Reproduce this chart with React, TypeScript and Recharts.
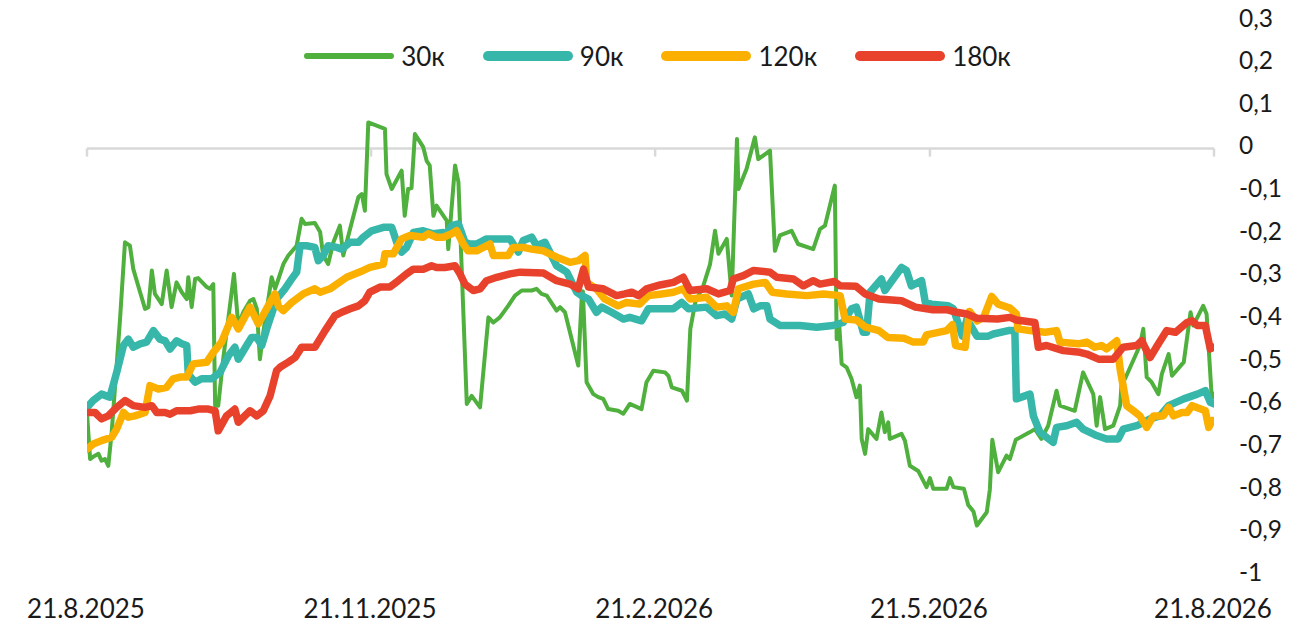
import { Legend, Line, LineChart, ReferenceLine, XAxis, YAxis } from "recharts";

// days since 21.8.2025, value
const series30: [number, number][] = [
  [0, -0.62], [1, -0.728], [2, -0.723], [3.7, -0.716], [4.7, -0.732], [5.8, -0.728], [6.9, -0.744],
  [8, -0.665], [10.7, -0.4], [12.3, -0.22], [13.9, -0.228], [15, -0.283], [17.2, -0.337], [18.8, -0.376],
  [19.9, -0.372], [21, -0.286], [22, -0.341], [24.2, -0.365], [25.8, -0.286], [27.4, -0.372], [29, -0.314],
  [30.7, -0.337], [32.3, -0.353], [32.8, -0.302], [33.9, -0.372], [35, -0.306], [36, -0.304], [38.8, -0.325],
  [39.8, -0.329], [40.9, -0.318], [41.5, -0.603], [42.5, -0.603], [44.1, -0.494], [47.6, -0.294], [49, -0.415],
  [50.6, -0.384], [52.8, -0.357], [53.9, -0.353], [55, -0.376], [56, -0.494], [57.1, -0.431], [59.8, -0.302],
  [60.9, -0.329], [62, -0.306], [63.6, -0.271], [65.2, -0.251], [67.9, -0.228], [69.5, -0.165], [70.6, -0.177],
  [73.8, -0.175], [75.5, -0.196], [76.5, -0.251], [78.1, -0.271], [79.8, -0.22], [81.9, -0.181], [83, -0.251],
  [85.2, -0.189], [87.9, -0.114], [89, -0.107], [90, -0.146], [91.1, 0.061], [96.5, 0.046], [97, -0.06],
  [98.7, -0.095], [101.9, -0.052], [102.9, -0.158], [104, -0.095], [105.1, -0.093], [106.2, 0.034],
  [108.9, 0.003], [110, -0.029], [111, -0.04], [112.2, -0.158], [113.2, -0.134], [116.5, -0.169], [117, -0.236],
  [119.2, -0.04], [120.3, -0.079], [123, -0.599], [124.6, -0.58], [127.3, -0.607], [130, -0.396], [131.6, -0.408],
  [133.7, -0.396], [136.4, -0.369], [138.6, -0.345], [140.8, -0.333], [144, -0.333], [145.6, -0.329],
  [147.2, -0.341], [148.9, -0.345], [152.1, -0.38], [153.2, -0.372], [154.8, -0.384], [159.1, -0.509],
  [160.2, -0.353], [160.6, -0.335], [161.8, -0.548], [164, -0.576], [165.6, -0.583], [167.2, -0.587],
  [168.8, -0.611], [172, -0.615], [173.7, -0.622], [175.8, -0.599], [179.6, -0.611], [181.2, -0.548],
  [183.4, -0.521], [187.2, -0.525], [188.3, -0.533], [189.4, -0.56], [192.7, -0.568], [194.3, -0.591],
  [195.4, -0.423], [197, -0.361], [199.6, -0.322], [201.8, -0.271], [203.4, -0.193], [204.5, -0.247],
  [207.2, -0.212], [208.8, -0.345], [210.5, 0.022], [211, -0.095], [213.6, -0.048], [216.3, 0.026],
  [217.4, -0.025], [221.2, -0.005], [222.8, -0.24], [224.4, -0.204], [228.2, -0.193], [230.3, -0.224],
  [235.2, -0.236], [237.4, -0.189], [239, -0.181], [242.2, -0.087], [242.8, -0.447], [243.6, -0.41],
  [244.4, -0.505], [246, -0.513], [247.6, -0.54], [249.2, -0.583], [250.3, -0.556], [250.9, -0.681],
  [252, -0.716], [253, -0.658], [255.7, -0.681], [257.3, -0.619], [258.4, -0.665], [259.5, -0.642],
  [260, -0.681], [263.8, -0.669], [264.9, -0.685], [266.5, -0.744], [269.2, -0.756], [271.9, -0.794],
  [273, -0.773], [274.1, -0.798], [278.4, -0.798], [279.5, -0.773], [280.6, -0.794], [284, -0.798],
  [285.4, -0.836], [287.1, -0.851], [288.2, -0.884], [291.4, -0.853], [292.4, -0.8], [293.2, -0.683],
  [295.1, -0.759], [297.8, -0.72], [298.9, -0.728], [300.8, -0.683], [305.4, -0.665], [307, -0.658],
  [309.1, -0.681], [311.3, -0.65], [314, -0.568], [315.1, -0.603], [319.9, -0.615], [322.6, -0.525],
  [325.9, -0.576], [327, -0.65], [328.1, -0.583], [329.7, -0.658], [332.4, -0.65], [334.6, -0.603],
  [335.1, -0.548], [336.2, -0.54], [341, -0.462], [342.1, -0.423], [343.2, -0.536], [344.8, -0.548],
  [347, -0.576], [348.1, -0.529], [350.3, -0.482], [351.4, -0.533], [355.2, -0.501], [357.4, -0.384],
  [358.3, -0.415], [361.5, -0.369], [362.6, -0.388], [364.3, -0.587], [365, -0.575],
];

const series90: [number, number][] = [
  [0, -0.607], [2, -0.591], [4.7, -0.576], [7.4, -0.583], [9.6, -0.525], [11.8, -0.462], [13.4, -0.447],
  [15, -0.466], [17.2, -0.458], [19.3, -0.454], [21.5, -0.427], [23.6, -0.447], [25.3, -0.451], [26.9, -0.47],
  [29, -0.451], [30.7, -0.458], [32.3, -0.462], [32.8, -0.529], [35, -0.548], [37.1, -0.54], [40.4, -0.54],
  [43.1, -0.525], [45.8, -0.486], [47.9, -0.466], [49, -0.494], [51.7, -0.462], [53.3, -0.443], [55, -0.443],
  [56.6, -0.462], [58.2, -0.423], [61.4, -0.353], [64.1, -0.329], [66.3, -0.306], [67.9, -0.29], [69, -0.228],
  [71.1, -0.228], [73.8, -0.232], [74.9, -0.263], [76.5, -0.251], [78.1, -0.228], [80.9, -0.232],
  [82.5, -0.236], [85.2, -0.22], [87.9, -0.22], [89.5, -0.208], [92.2, -0.193], [96, -0.185], [98.7, -0.185],
  [100.3, -0.22], [101.9, -0.243], [103.5, -0.232], [105.7, -0.197], [108.9, -0.193], [112.2, -0.2],
  [115.4, -0.197], [116.5, -0.203], [118.1, -0.181], [120.3, -0.177], [122.4, -0.22], [124, -0.224],
  [126.2, -0.224], [129.4, -0.212], [132.7, -0.212], [137, -0.212], [139.7, -0.243], [141.3, -0.216],
  [144, -0.208], [145.6, -0.228], [148.3, -0.22], [152.1, -0.275], [155.4, -0.29], [158.6, -0.337],
  [160.2, -0.345], [162.4, -0.353], [165, -0.384], [166.7, -0.372], [169.9, -0.384], [173.7, -0.4],
  [175.8, -0.396], [179.6, -0.404], [181.8, -0.376], [185.6, -0.376], [189.9, -0.376], [192.6, -0.361],
  [194.8, -0.376], [200.7, -0.372], [203.9, -0.392], [206.6, -0.388], [208.8, -0.4], [210.5, -0.353],
  [214.2, -0.341], [215.9, -0.376], [218, -0.369], [220.2, -0.369], [221.2, -0.4], [224.4, -0.415],
  [230.9, -0.415], [236.3, -0.419], [241.6, -0.415], [244.9, -0.408], [247.6, -0.376], [249.2, -0.372],
  [251.4, -0.431], [252.5, -0.431], [253.6, -0.337], [257.3, -0.306], [258.4, -0.333], [263.8, -0.279],
  [265.4, -0.286], [267, -0.322], [270.3, -0.31], [271.5, -0.361], [273.5, -0.365], [278.9, -0.369],
  [280.6, -0.376], [283.5, -0.44], [285, -0.4], [288.2, -0.44], [291.9, -0.44], [293.5, -0.435],
  [298.4, -0.427], [300.5, -0.427], [301, -0.587], [305.4, -0.576], [306.5, -0.627], [308.6, -0.665],
  [312.9, -0.689], [314, -0.654], [317.3, -0.65], [320.5, -0.642], [322.6, -0.658], [327, -0.673],
  [330.2, -0.681], [334, -0.681], [335.6, -0.658], [340, -0.65], [344.3, -0.634], [347.5, -0.627],
  [350.3, -0.603], [355.2, -0.587], [359.6, -0.576], [362.2, -0.568], [363.8, -0.595], [365, -0.599],
];

const series120: [number, number][] = [
  [0, -0.705], [2, -0.693], [4.7, -0.685], [8, -0.677], [9.6, -0.658], [11.8, -0.619], [13.4, -0.63],
  [15.5, -0.627], [18.8, -0.619], [20.4, -0.556], [23.1, -0.564], [25.8, -0.56], [27.9, -0.54], [30.1, -0.536],
  [32.3, -0.536], [34.4, -0.505], [38.8, -0.501], [40.9, -0.478], [43.6, -0.454], [46.9, -0.396], [49, -0.423],
  [52.8, -0.372], [55.5, -0.411], [58.7, -0.369], [60.9, -0.341], [62, -0.37], [63.6, -0.38], [66.3, -0.361],
  [70, -0.341], [73.8, -0.329], [75.5, -0.337], [78.7, -0.329], [84.1, -0.302], [89.5, -0.286], [91.6, -0.279],
  [96, -0.271], [96.5, -0.247], [99.2, -0.247], [101.9, -0.212], [104.6, -0.204], [108.9, -0.208],
  [110.5, -0.2], [113.2, -0.208], [115.4, -0.208], [118.1, -0.2], [119.7, -0.193], [121.9, -0.224],
  [123.4, -0.24], [126.2, -0.24], [130.5, -0.224], [131.6, -0.251], [136.4, -0.251], [138, -0.232],
  [141.3, -0.232], [144, -0.236], [147.8, -0.24], [152.1, -0.255], [156.4, -0.267], [159.1, -0.263],
  [161.3, -0.251], [161.8, -0.314], [165, -0.329], [167.7, -0.353], [172, -0.369], [174.7, -0.361],
  [179, -0.365], [181.8, -0.345], [186.1, -0.341], [189.9, -0.337], [193.1, -0.329], [195.3, -0.353],
  [200.7, -0.349], [203.9, -0.372], [207.2, -0.369], [209.3, -0.384], [211, -0.329], [215.9, -0.318],
  [219.7, -0.314], [221.9, -0.337], [226.6, -0.341], [233.1, -0.345], [238.5, -0.341], [243.9, -0.345],
  [245.5, -0.4], [249.2, -0.402], [252.2, -0.419], [256.5, -0.427], [259.3, -0.443], [264.6, -0.445],
  [267.6, -0.454], [270.8, -0.454], [271.9, -0.437], [278.4, -0.427], [280.3, -0.413], [281.3, -0.462],
  [284.4, -0.466], [285.8, -0.382], [288.2, -0.404], [290.4, -0.396], [293, -0.347], [295.1, -0.365],
  [298.9, -0.374], [301, -0.388], [301.5, -0.423], [305.4, -0.427], [310.3, -0.431], [314, -0.427],
  [315.1, -0.454], [321, -0.458], [323.8, -0.454], [326.4, -0.466], [328.6, -0.462], [330.2, -0.47],
  [333.5, -0.451], [334.6, -0.517], [336.7, -0.603], [338.9, -0.615], [341, -0.627], [343.2, -0.654],
  [345.4, -0.627], [348.6, -0.627], [350.3, -0.607], [351.9, -0.627], [354.6, -0.619], [356.3, -0.619],
  [357.9, -0.603], [362.2, -0.615], [363.3, -0.654], [364.4, -0.638], [365, -0.638],
];

const series180: [number, number][] = [
  [0, -0.619], [2.6, -0.619], [4.7, -0.634], [6.9, -0.627], [9.6, -0.607], [12.3, -0.591], [15, -0.603],
  [18.8, -0.607], [21, -0.603], [22.6, -0.619], [25.3, -0.619], [26.9, -0.623], [29, -0.615], [33.4, -0.615],
  [36, -0.611], [39.3, -0.611], [41.5, -0.615], [42.5, -0.662], [45.2, -0.627], [47.9, -0.611], [49, -0.642],
  [52.8, -0.615], [55, -0.627], [57.1, -0.615], [59.3, -0.58], [61.4, -0.521], [62.5, -0.513], [65.2, -0.501],
  [67.4, -0.49], [69.5, -0.466], [73.8, -0.466], [77.1, -0.427], [80.3, -0.392], [82.5, -0.384],
  [85.2, -0.376], [87.9, -0.369], [90, -0.357], [91.6, -0.337], [94.9, -0.325], [98.1, -0.325],
  [100.8, -0.31], [103.5, -0.294], [105.7, -0.283], [108.9, -0.283], [111.6, -0.275], [113.2, -0.279],
  [115.9, -0.279], [119.2, -0.275], [120.8, -0.294], [122.4, -0.318], [125.1, -0.333], [127.3, -0.329],
  [129.4, -0.31], [132.7, -0.302], [137, -0.294], [140.3, -0.29], [147.8, -0.292], [152.1, -0.31],
  [156.4, -0.318], [159.1, -0.329], [160.8, -0.283], [162.4, -0.325], [167.2, -0.329], [171.5, -0.345],
  [174.2, -0.341], [176.4, -0.337], [178.6, -0.345], [181.2, -0.329], [185.6, -0.32], [189.9, -0.314],
  [193.1, -0.302], [195.3, -0.333], [200.7, -0.329], [204.5, -0.341], [208.3, -0.333], [209.3, -0.306],
  [212.6, -0.298], [215.9, -0.286], [221.2, -0.29], [223.4, -0.302], [228.8, -0.306], [232, -0.322],
  [235.2, -0.31], [237.4, -0.318], [242, -0.312], [243.9, -0.322], [249, -0.323], [252, -0.341],
  [256.5, -0.353], [263.8, -0.357], [268.3, -0.372], [274, -0.378], [278.4, -0.378], [281.6, -0.384],
  [285, -0.388], [288.2, -0.398], [294.9, -0.4], [298.9, -0.396], [301, -0.402], [307, -0.408],
  [308.1, -0.466], [310.8, -0.462], [316.2, -0.474], [321.6, -0.478], [323.8, -0.482], [327.6, -0.494],
  [332.4, -0.494], [335.6, -0.466], [340, -0.462], [341.6, -0.451], [344.3, -0.49], [347, -0.458],
  [349.7, -0.427], [352.5, -0.431], [356.3, -0.408], [357.9, -0.404], [359.6, -0.415], [362.2, -0.415],
  [363.8, -0.47], [365, -0.466],
];

const xTicks = [0, 92, 184, 273, 365];
const xLabels = ["21.8.2025", "21.11.2025", "21.2.2026", "21.5.2026", "21.8.2026"];
const yTicks = [0.3, 0.2, 0.1, 0, -0.1, -0.2, -0.3, -0.4, -0.5, -0.6, -0.7, -0.8, -0.9, -1];
const yLabels = ["0,3", "0,2", "0,1", "0", "-0,1", "-0,2", "-0,3", "-0,4", "-0,5", "-0,6", "-0,7", "-0,8", "-0,9", "-1"];

const FONT = "Lato, 'Open Sans', sans-serif";
const TEXT = "#1a1a1a";

const lines = [
  { key: "30к", data: series30, color: "#4fb03d", width: 4 },
  { key: "90к", data: series90, color: "#36b7aa", width: 7.5 },
  { key: "120к", data: series120, color: "#fbb000", width: 7.5 },
  { key: "180к", data: series180, color: "#e8412c", width: 7.5 },
];

const toPoints = (s: [number, number][]) => s.map(([d, v]) => ({ d, v }));

function XTick({ x, y, payload }: any) {
  const i = xTicks.indexOf(payload.value);
  return (
    <text x={x - 1} y={y + 35} textAnchor="middle" fontSize={26} fontFamily={FONT} fill={TEXT}>
      {xLabels[i]}
    </text>
  );
}

function YTick({ x, y, payload }: any) {
  const i = yTicks.findIndex((t) => Math.abs(t - payload.value) < 1e-6);
  return (
    <text x={x} y={y + 6} textAnchor="start" fontSize={24.5} fontFamily={FONT} fill={TEXT}>
      {yLabels[i]}
    </text>
  );
}

function LegendBox() {
  return (
    <div style={{ display: "flex", justifyContent: "center", alignItems: "center", gap: 38, fontFamily: FONT, paddingLeft: 14 }}>
      {lines.map((l) => (
        <div key={l.key} style={{ display: "flex", alignItems: "center", gap: 7 }}>
          <div style={{ width: 90, height: l.width + 2, borderRadius: 5, background: l.color }} />
          <span style={{ fontSize: 26, color: TEXT }}>{l.key}</span>
        </div>
      ))}
    </div>
  );
}

export default function App() {
  return (
    <div style={{ position: "absolute", left: 0, top: 0, width: 1301, height: 636, background: "#fff" }}>
      <LineChart width={1301} height={636} margin={{ top: 20.5, right: 7, left: 87, bottom: 11 }}>
        <XAxis
          dataKey="d"
          type="number"
          domain={[0, 365]}
          ticks={xTicks}
          axisLine={false}
          tickLine={false}
          height={50}
          tick={<XTick />}
          interval={0}
          allowDataOverflow
        />
        <YAxis
          orientation="right"
          type="number"
          domain={[-1, 0.3]}
          ticks={yTicks}
          axisLine={false}
          tickLine={false}
          width={80}
          tickMargin={19}
          tick={<YTick />}
          interval={0}
          allowDataOverflow
        />
        <ReferenceLine y={0} stroke="#d9d9d9" strokeWidth={2.5} />
        {xTicks.map((t) => (
          <ReferenceLine
            key={t}
            segment={[{ x: t, y: 0 }, { x: t, y: -0.019 }]}
            stroke="#d9d9d9"
            strokeWidth={2.5}
          />
        ))}
        <Legend
          verticalAlign="middle"
          align="center"
          layout="horizontal"
          wrapperStyle={{ top: 40, left: 0, width: 1301 }}
          content={() => <LegendBox />}
        />
        {lines.map((l) => (
          <Line
            key={l.key}
            data={toPoints(l.data)}
            dataKey="v"
            name={l.key}
            type="linear"
            stroke={l.color}
            strokeWidth={l.width}
            strokeLinejoin="round"
            strokeLinecap="round"
            dot={false}
            activeDot={false}
            isAnimationActive={false}
          />
        ))}
      </LineChart>
    </div>
  );
}
